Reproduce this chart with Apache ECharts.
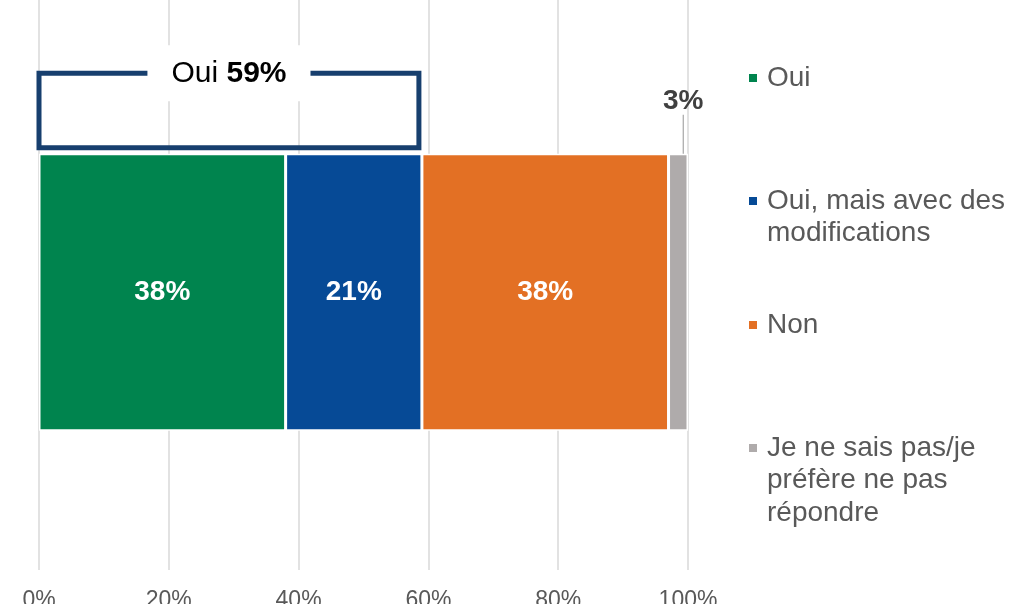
<!DOCTYPE html>
<html>
<head>
<meta charset="utf-8">
<script src="https://cdn.jsdelivr.net/npm/echarts@6/dist/echarts.min.js"></script>
<style>
    html, body { margin: 0; padding: 0; background: #fff; }
    #main { width: 1012px; height: 604px; }
</style>
</head>
<body>
<div id="main"></div>
<script>
// data
var categories = ['Réponse'];
var seriesNames = ['Oui', 'Oui, mais avec des\nmodifications', 'Non', 'Je ne sais pas/je\npréfère ne pas\nrépondre'];
var ouiValues = [38];
var ouiModifValues = [21];
var nonValues = [38];
var nspValues = [3];
var xTicks = [0, 20, 40, 60, 80, 100];

var colors = ['#00844E', '#064A96', '#E37024', '#AFABAB'];
var font = '"Liberation Sans", Arial, sans-serif';

var myChart = echarts.init(document.getElementById('main'));

var barLabel = {
    show: true,
    formatter: '{c}%',
    color: '#fff',
    fontFamily: font,
    fontWeight: 'bold',
    fontSize: 28
};

function legendFor(i, top, lines) {
    return {
        orient: 'vertical',
        left: 747,
        top: top,
        padding: 0,
        icon: 'rect',
        itemWidth: 10,
        itemHeight: 10,
        selectedMode: false,
        // blank lines above keep the square next to the first line
        formatter: function (name) {
            var pre = '';
            for (var k = 1; k < lines; k++) pre += '\n';
            return pre + name;
        },
        textStyle: {
            color: '#595959',
            fontFamily: font,
            fontSize: 28,
            lineHeight: 32.5,
            padding: [0, 0, 0, 4]
        },
        data: [seriesNames[i]]
    };
}

var option = {
    animation: false,
    grid: { left: 39, right: 324, top: 0, bottom: 34, outerBoundsMode: 'none', containLabel: false },
    legend: [
        legendFor(0, 61.75, 1),
        legendFor(1, 152.25, 2),
        legendFor(2, 308.75, 1),
        legendFor(3, 366.75, 3)
    ],
    xAxis: {
        type: 'value',
        min: xTicks[0],
        max: xTicks[xTicks.length - 1],
        interval: 20,
        axisLine: { show: false },
        axisTick: { show: false },
        splitLine: { lineStyle: { color: '#D9D9D9', width: 1.5 } },
        axisLabel: {
            formatter: '{value}%',
            color: '#595959',
            fontFamily: font,
            fontSize: 23,
            margin: 19
        }
    },
    yAxis: {
        type: 'category',
        data: categories,
        boundaryGap: false,
        min: -19,
        max: 20,
        show: false
    },
    series: [
        {
            name: seriesNames[0], type: 'bar', stack: 'total', barWidth: 277,
            data: ouiValues,
            itemStyle: { color: colors[0], borderColor: '#fff', borderWidth: 1.5 },
            label: barLabel
        },
        {
            name: seriesNames[1], type: 'bar', stack: 'total', barWidth: 277,
            data: ouiModifValues,
            itemStyle: { color: colors[1], borderColor: '#fff', borderWidth: 1.5 },
            label: barLabel
        },
        {
            name: seriesNames[2], type: 'bar', stack: 'total', barWidth: 277,
            data: nonValues,
            itemStyle: { color: colors[2], borderColor: '#fff', borderWidth: 1.5 },
            label: barLabel
        },
        {
            name: seriesNames[3], type: 'bar', stack: 'total', barWidth: 277,
            data: nspValues,
            itemStyle: { color: colors[3], borderColor: '#fff', borderWidth: 1.5 },
            label: {
                show: true,
                position: 'top',
                distance: 5,
                formatter: '{c}%',
                color: '#404040',
                fontFamily: font,
                fontWeight: 'bold',
                fontSize: 28
            },
            labelLayout: { dx: 5, dy: -34 },
            labelLine: { show: true, lineStyle: { color: '#A6A6A6', width: 1.2 } }
        },
        {
            // box "Oui 59%" over the two yes segments
            type: 'custom',
            silent: true,
            z: 5,
            data: [[ouiValues[0] + ouiModifValues[0], 0]],
            renderItem: function (params, api) {
                var start = api.coord([0, 0]);
                var end = api.coord([api.value(0), 0]);
                var barTop = start[1] - 138.5;
                var top = barTop - 80.5;
                var bottom = barTop - 6;
                var left = start[0];
                var right = end[0] - 3;
                return {
                    type: 'group',
                    children: [
                        {
                            type: 'rect',
                            shape: { x: left, y: top, width: right - left, height: bottom - top },
                            style: { stroke: '#173F6E', lineWidth: 5, fill: null }
                        },
                        {
                            type: 'text',
                            x: (left + right) / 2,
                            y: top,
                            style: {
                                text: '{a|Oui }{b|' + api.value(0) + '%}',
                                align: 'center',
                                verticalAlign: 'middle',
                                backgroundColor: '#fff',
                                padding: [13, 24],
                                rich: {
                                    a: { fontFamily: font, fontSize: 30, fill: '#000' },
                                    b: { fontFamily: font, fontSize: 30, fontWeight: 'bold', fill: '#000' }
                                }
                            }
                        }
                    ]
                };
            }
        }
    ]
};
myChart.setOption(option);
</script>
</body>
</html>
